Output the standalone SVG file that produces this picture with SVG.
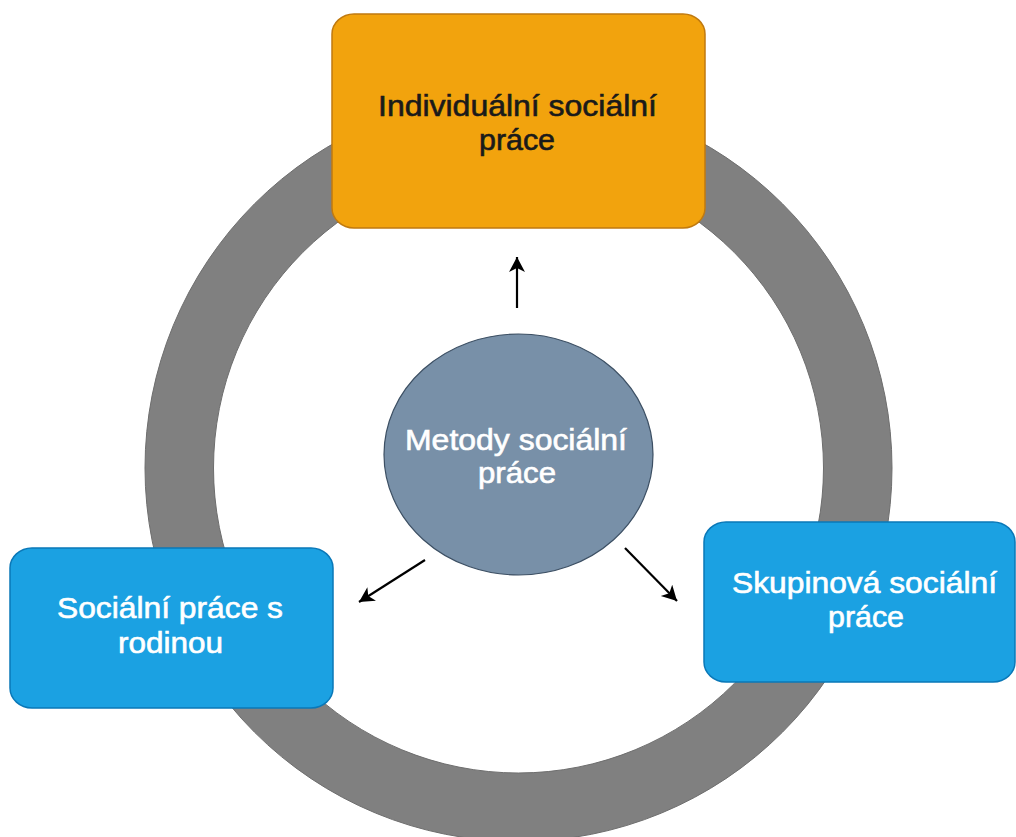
<svg xmlns="http://www.w3.org/2000/svg" width="1016" height="837" viewBox="0 0 1016 837">
  <style>
    .lbl { font-family: "Liberation Sans", Arial, sans-serif; font-size: 29px; text-anchor: middle; stroke-width: 0.6; }
    .dark { fill: #1a1a1a; stroke: #1a1a1a; }
    .light { fill: #ffffff; stroke: #ffffff; }
    .blue { fill: #1ba1e2; stroke: #0a78b8; stroke-width: 1.5; }
    .conn { stroke: #000000; stroke-width: 2.2; fill: none; marker-end: url(#arrow); }
  </style>
  <defs>
    <marker id="arrow" markerUnits="userSpaceOnUse" markerWidth="18" markerHeight="18" refX="15" refY="8" orient="auto">
      <path d="M0,0 L15,8 L0,16 L4,8 Z" fill="#000000"/>
    </marker>
  </defs>
  <rect width="1016" height="837" fill="#ffffff"/>

  <g id="ring">
    <circle cx="518.5" cy="468" r="339.25" fill="none" stroke="#808080" stroke-width="68.5"/>
    <circle cx="518.5" cy="468" r="373.5" fill="none" stroke="#6e6e6e" stroke-width="1"/>
    <circle cx="518.5" cy="468" r="305" fill="none" stroke="#6e6e6e" stroke-width="1"/>
  </g>

  <g id="individualni">
    <rect x="332" y="14" width="373" height="214" rx="22" ry="20" fill="#f2a30d" stroke="#c07a10" stroke-width="1.5"/>
    <text class="lbl dark" x="517.5" y="116" textLength="279" lengthAdjust="spacingAndGlyphs">Individuální sociální</text>
    <text class="lbl dark" x="517" y="150" textLength="76" lengthAdjust="spacingAndGlyphs">práce</text>
  </g>

  <g id="rodina">
    <rect class="blue" x="10" y="548" width="323" height="160" rx="22" ry="20"/>
    <text class="lbl light" x="170" y="618" textLength="226" lengthAdjust="spacingAndGlyphs">Sociální práce s</text>
    <text class="lbl light" x="170.5" y="653" textLength="105" lengthAdjust="spacingAndGlyphs">rodinou</text>
  </g>

  <g id="skupinova">
    <rect class="blue" x="704" y="522" width="311" height="160" rx="22" ry="20"/>
    <text class="lbl light" x="864.5" y="593" textLength="265" lengthAdjust="spacingAndGlyphs">Skupinová sociální</text>
    <text class="lbl light" x="866" y="627" textLength="76" lengthAdjust="spacingAndGlyphs">práce</text>
  </g>

  <g id="metody">
    <ellipse cx="518.5" cy="454.5" rx="134.5" ry="120.5" fill="#7890a8" stroke="#3c4f63" stroke-width="1.2"/>
    <text class="lbl light" x="516" y="450" textLength="222" lengthAdjust="spacingAndGlyphs">Metody sociální</text>
    <text class="lbl light" x="517" y="483" textLength="78" lengthAdjust="spacingAndGlyphs">práce</text>
  </g>

  <g id="connectors">
    <line class="conn" x1="517" y1="308" x2="517" y2="257"/>
    <line class="conn" x1="425" y1="560" x2="359" y2="602"/>
    <line class="conn" x1="625" y1="548" x2="677" y2="601"/>
  </g>
</svg>
